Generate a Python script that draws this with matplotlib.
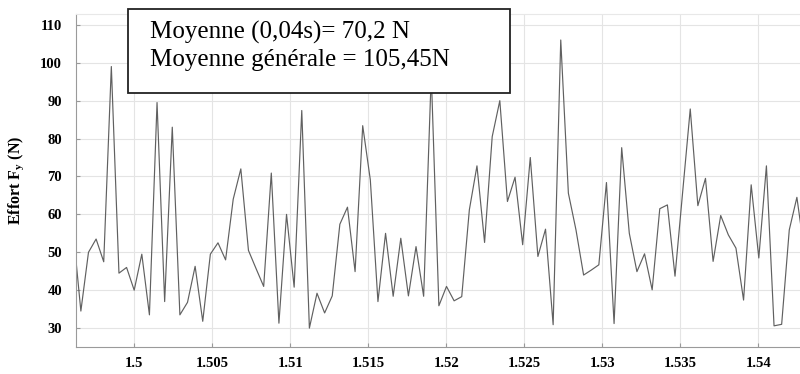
import numpy as np
import matplotlib
matplotlib.use("Agg")
import matplotlib.pyplot as plt
from matplotlib.patches import Rectangle

# sampling at 2048 Hz, sample index relative to t = 1.5 s
fs = 2048
start_index = -8
effort_fy = [55.3, 34.5, 50, 53.5, 47.5, 99, 44.5, 46,
             40, 49.5, 33.5, 89.5, 37, 83, 33.5, 36.8, 46.3, 31.8,
             49.5, 52.5, 48, 64, 72, 50.5, 45.7, 41, 70.9, 31.3,
             60, 40.8, 87.4, 30, 39.2, 34, 38.5, 57.4, 61.9, 44.9,
             83.4, 69.1, 37, 55, 38.4, 53.7, 38.5, 51.5, 38.4, 97,
             35.9, 41, 37.2, 38.3, 61.2, 72.8, 52.6, 80.5, 90, 63.4,
             69.8, 52, 75, 48.9, 56.1, 30.9, 106, 65.6, 55.9, 44,
             45.3, 46.7, 68.4, 31.2, 77.6, 55, 44.9, 49.6, 40.1, 61.5,
             62.5, 43.7, 65.8, 87.8, 62.3, 69.5, 47.6, 59.7, 54.6, 51.1,
             37.4, 67.8, 48.5, 72.8, 30.6, 31, 55.9, 64.5, 50]
time_s = 1.5 + (start_index + np.arange(len(effort_fy))) / fs

x_ticks = [1.5, 1.505, 1.51, 1.515, 1.52, 1.525, 1.53, 1.535, 1.54]
x_labels = ["1.5", "1.505", "1.51", "1.515", "1.52", "1.525", "1.53", "1.535", "1.54"]
y_ticks = [30, 40, 50, 60, 70, 80, 90, 100, 110]
info_lines = ["Moyenne (0,04s)= 70,2 N", "Moyenne générale = 105,45N"]

plt.rcParams['font.family'] = ['Liberation Serif', 'DejaVu Serif']

fig = plt.figure(figsize=(8, 3.74), dpi=100)
ax = fig.add_axes([0.095, 0.072, 0.905, 0.891])

ax.plot(time_s, effort_fy, color='#606060', lw=0.85)

ax.set_xlim(1.49627, 1.54268)
ax.set_ylim(25.0, 112.9)
ax.set_xticks(x_ticks)
ax.set_xticklabels(x_labels)
ax.set_yticks(y_ticks)
ax.grid(True, color='#e4e4e4', lw=0.8)
ax.set_axisbelow(True)
ax.tick_params(direction='in', length=3, color='#999999', labelsize=10.5)
ax.tick_params(axis='x', pad=7)
ax.tick_params(axis='y', pad=10)
for lab in ax.get_xticklabels() + ax.get_yticklabels():
    lab.set_fontweight('bold')

for side in ['left', 'bottom']:
    ax.spines[side].set_color('#9a9a9a')
ax.spines['top'].set_color('#e8e8e8')
ax.spines['right'].set_visible(False)

ax.set_ylabel(r'Effort F$_\mathregular{y}$ (N)', fontsize=11.5, fontweight='bold', labelpad=10)

# annotation box (figure coords, sits above the axes top)
box = Rectangle((0.16, 0.7513), 0.4775, 0.2246, transform=fig.transFigure,
                facecolor='white', edgecolor='#222222', lw=1.3, zorder=5)
fig.add_artist(box)
fig.text(0.1875, 0.913, info_lines[0], fontsize=18, va='center', ha='left', zorder=6)
fig.text(0.1875, 0.840, info_lines[1], fontsize=18, va='center', ha='left', zorder=6)

fig.savefig('out.png', dpi=100)
